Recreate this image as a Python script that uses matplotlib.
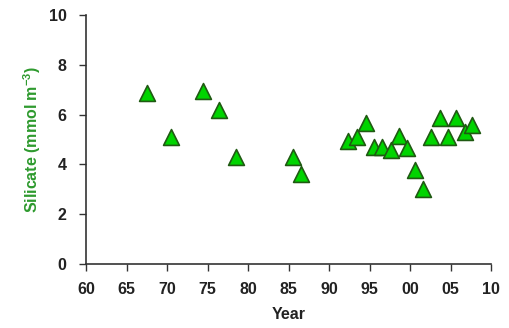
import matplotlib
matplotlib.use("Agg")
import matplotlib.pyplot as plt

# Silicate concentration by year
years = [1967.5, 1970.5, 1974.4, 1976.4, 1978.5, 1985.6, 1986.5,
         1992.3, 1993.4, 1994.6, 1995.5, 1996.5, 1997.6, 1998.6, 1999.6,
         2000.6, 2001.6, 2002.6, 2003.7, 2004.7, 2005.7, 2006.8, 2007.7]
silicate = [6.87, 5.1, 6.95, 6.2, 4.3, 4.3, 3.6,
            4.95, 5.1, 5.65, 4.72, 4.72, 4.6, 5.15, 4.68,
            3.78, 3.0, 5.12, 5.85, 5.12, 5.85, 5.3, 5.58]

xticks = [1960, 1965, 1970, 1975, 1980, 1985, 1990, 1995, 2000, 2005, 2010]
xtick_labels = ["60", "65", "70", "75", "80", "85", "90", "95", "00", "05", "10"]
yticks = [0, 2, 4, 6, 8, 10]

plt.rcParams['font.family'] = ['Liberation Sans', 'DejaVu Sans']
plt.rcParams['mathtext.fontset'] = 'custom'
plt.rcParams['mathtext.rm'] = 'Liberation Sans:bold'
plt.rcParams['mathtext.bf'] = 'Liberation Sans:bold'

fig = plt.figure(figsize=(5.1, 3.28), dpi=100)
ax = fig.add_axes([0.1686, 0.195, 0.7944, 0.759])

ax.scatter(years, silicate, marker='^', s=130, facecolor='#00d400',
           edgecolor='#1f5a12', linewidth=1.2, zorder=3, clip_on=False)

ax.set_xlim(1960, 2010)
ax.set_ylim(0, 10)
ax.set_xticks(xticks)
ax.set_xticklabels(xtick_labels)
ax.set_yticks(yticks)

for s in ['top', 'right']:
    ax.spines[s].set_visible(False)
for s in ['left', 'bottom']:
    ax.spines[s].set_color('#333333')
    ax.spines[s].set_linewidth(1.2)

ax.tick_params(axis='both', direction='out', length=5, width=1.0,
               color='#333333', labelsize=11.5)
ax.tick_params(axis='y', pad=9)
ax.tick_params(axis='x', pad=8)
for lab in ax.get_xticklabels() + ax.get_yticklabels():
    lab.set_fontweight('bold')
    lab.set_color('#222222')

ax.set_xlabel('Year', fontsize=11.5, fontweight='bold', color='#222222', labelpad=7)
ax.set_ylabel('Silicate (mmol m$^{-3}$)', fontsize=11.5, fontweight='bold',
              color='#2e9a2e', labelpad=4)

fig.savefig('out.png', dpi=100)
